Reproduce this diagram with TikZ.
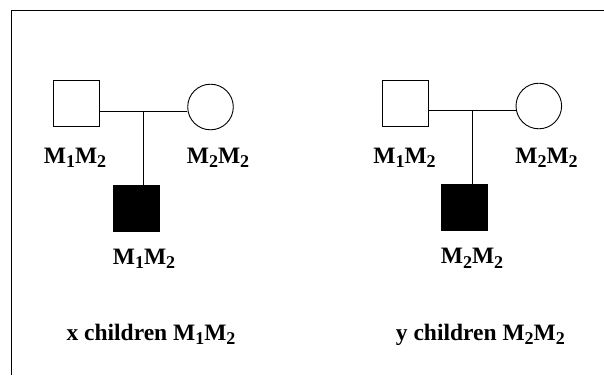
\documentclass[tikz,border=0pt]{standalone}
\usepackage{fontspec}
\setmainfont{Liberation Serif}
\newcommand\sbs[1]{\raisebox{-4.5pt}{\fontsize{18}{18}\selectfont #1}}
\begin{document}
\begin{tikzpicture}[x=1pt,y=-1pt,
  person/.style={draw,line width=0.9pt,inner sep=0pt,minimum size=46pt},
  male/.style={person,rectangle},
  female/.style={person,circle,minimum size=45.6pt},
  affected/.style={male,fill=black},
  lbl/.style={inner sep=0pt,anchor=base,font=\fontsize{23.5}{26}\selectfont\bfseries},
  link/.style={line width=0.9pt}]
\useasboundingbox (0,0) rectangle (604,375);
\draw[line width=1pt] (11.5,375) -- (11.5,10.5) -- (604,10.5);
% left family
\node[male] (f1) at (76.3,103.8) {};
\node[female] (m1) at (210.5,107) {};
\coordinate (j1) at (143.5,111);
\node[affected] (c1) at (136,208.2) {};
\draw[link] (f1.east |- j1) -- (m1.west |- j1);
\draw[link] (j1) -- (c1.north -| j1);
\node[lbl] (lf1) at (75,163) {M\sbs{1}M\sbs{2}};
\node[lbl] (lm1) at (218,163) {M\sbs{2}M\sbs{2}};
\node[lbl] (lc1) at (144,264) {M\sbs{1}M\sbs{2}};
\node[lbl] (t1) at (151,340) {x children M\sbs{1}M\sbs{2}};
% right family
\node[male] (f2) at (405,103) {};
\node[female] (m2) at (538.8,106) {};
\coordinate (j2) at (472,110.5);
\node[affected] (c2) at (464.2,207.5) {};
\draw[link] (f2.east |- j2) -- (m2.west |- j2);
\draw[link] (j2) -- (c2.north -| j2);
\node[lbl] (lf2) at (404.5,163) {M\sbs{1}M\sbs{2}};
\node[lbl] (lm2) at (546.5,163) {M\sbs{2}M\sbs{2}};
\node[lbl] (lc2) at (472,263.5) {M\sbs{2}M\sbs{2}};
\node[lbl] (t2) at (480.4,340) {y children M\sbs{2}M\sbs{2}};
\end{tikzpicture}
\end{document}
